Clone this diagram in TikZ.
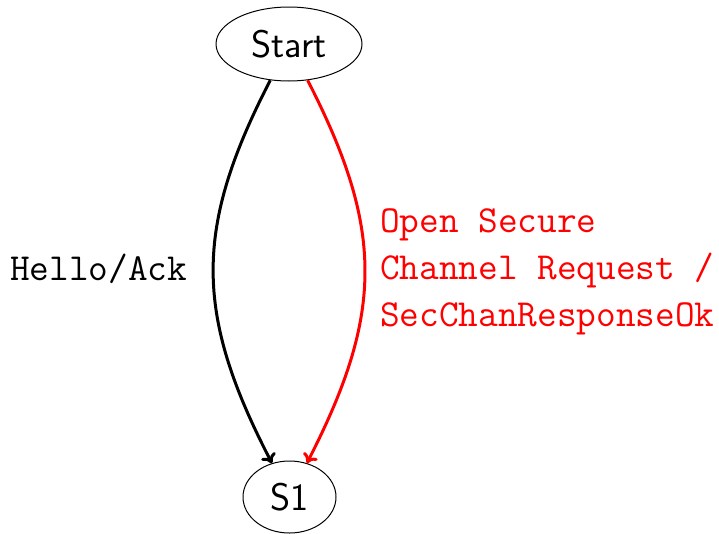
\documentclass[tikz,border=0pt]{standalone}
\usepackage{fontspec}
\usetikzlibrary{shapes.geometric,arrows.meta}
\begin{document}
\begin{tikzpicture}[x=1pt,y=-1pt,
  state/.style={draw,ellipse,line width=1pt,inner sep=0pt,
    font=\fontsize{38.5}{44}\selectfont\sffamily},
  trans/.style={line width=3pt,-{To[length=9pt,width=16pt]}},
  lbl/.style={anchor=base west,inner sep=0pt,align=left,
    font=\fontsize{38.2}{47}\selectfont\ttfamily}]
  \useasboundingbox (0,0) rectangle (719,533);
  \node[state,minimum width=146,minimum height=74] (start) at (289,44) {Start};
  \node[state,minimum width=93,minimum height=72] (s1) at (289.5,497) {S1};
  \draw[trans] (start) .. controls (194,228) and (194,313) .. (s1);
  \draw[trans,red] (start) .. controls (384,229) and (384,313) .. (s1);
  \node[lbl] (hello) at (10,280) {Hello/Ack};
  \node[lbl,red] (osc) at (380,326) {Open Secure\\Channel Request /\\SecChanResponseOk};
\end{tikzpicture}
\end{document}
